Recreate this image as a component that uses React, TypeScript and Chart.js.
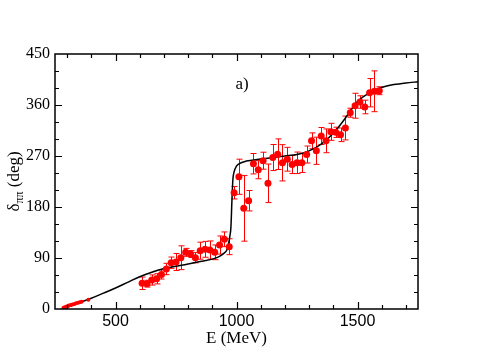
import React, { useEffect, useRef } from "react";
import { Chart, registerables } from "chart.js";

Chart.register(...registerables);

// Low-energy (Ke4-like) data
const lowE = [285, 292, 300, 307, 315, 322, 330, 337, 345, 352, 360, 388];
const lowPhase = [2, 3.5, 5, 6, 7, 8, 9, 10, 11, 12, 13, 16.5];

// Main phase-shift data
const mainE = [
  610, 630, 650, 670, 690, 710, 730, 750, 770, 790, 810, 830, 850, 870, 890, 910, 930, 950, 970,
  990, 1010, 1030, 1050, 1070, 1090, 1110, 1130, 1150, 1170, 1190, 1210, 1230, 1250, 1270, 1290,
  1310, 1330, 1350, 1370, 1390, 1410, 1430, 1450, 1470, 1490, 1510, 1530, 1550, 1570, 1590,
];
const mainPhase = [
  45.4, 44.7, 51.2, 53.3, 60.9, 70.6, 81.7, 82.9, 90.5, 100, 97, 90.5, 102.9, 105.3, 104.1, 100,
  112.9, 123, 109.9, 205.2, 233.4, 177.7, 191.1, 256.4, 245.8, 261.7, 221.8, 267.3, 273.2, 258,
  264.3, 255, 258, 258, 272.6, 296.8, 279.2, 305.3, 296.8, 312.7, 311.8, 307.4, 319.4, 346.4,
  358.7, 365.3, 356.5, 381.7, 384.2, 385.2,
];
const mainErr = [
  11, 6, 9, 9, 8, 10, 10, 15, 21, 7, 6, 9, 15, 14, 16, 13, 16, 13, 14, 11, 31, 58, 18, 18, 16, 15,
  34, 23, 27, 32, 21, 16, 19, 17, 15, 14, 24, 15, 21, 15, 9, 12, 21, 8, 22, 11, 12, 25, 36, 7,
];

// Theoretical curve
const curveE = [
  280, 300, 350, 400, 450, 500, 550, 600, 650, 700, 750, 800, 850, 900, 930, 950, 960, 967, 972,
  977, 981, 985, 990, 1000, 1010, 1040, 1100, 1150, 1200, 1250, 1300, 1350, 1400, 1450, 1480, 1500,
  1550, 1600, 1650, 1700, 1750,
];
const curvePhase = [
  0, 3, 11, 19, 28, 37, 47, 57, 65, 71.5, 75.5, 79.5, 84, 88, 93, 99, 104, 115, 127, 145, 190, 228,
  242, 252, 256, 261, 264.5, 267.5, 270, 272.5, 279, 291, 310, 337, 355, 366, 382, 391, 396, 399,
  401,
];

// Axes
const xMin = 250;
const xMax = 1750;
const yMin = 0;
const yMax = 450;
const xTickLabels = [500, 1000, 1500];
const xMinorTicks = [300, 400, 500, 600, 700, 800, 900, 1000, 1100, 1200, 1300, 1400, 1500, 1600, 1700];
const yTickLabels = [0, 90, 180, 270, 360, 450];
const yMinorTicks = [30, 60, 90, 120, 150, 180, 210, 240, 270, 300, 330, 360, 390, 420];

const SERIF = "Liberation Serif";
const SANS = "Liberation Sans";

export default function App() {
  const ref = useRef<HTMLCanvasElement>(null);

  useEffect(() => {
    document.body.style.margin = "0";
    const canvas = ref.current;
    if (!canvas) return;

    Chart.defaults.font.family = SERIF;

    const errorBars = {
      id: "errorBars",
      beforeDatasetsDraw(chart: any) {
        const { ctx } = chart;
        const x = chart.scales.x;
        const y = chart.scales.y;
        ctx.save();
        ctx.strokeStyle = "#ff0000";
        ctx.lineWidth = 1;
        mainE.forEach((e, i) => {
          const px = Math.round(x.getPixelForValue(e)) + 0.5;
          const y1 = y.getPixelForValue(mainPhase[i] - mainErr[i]);
          const y2 = y.getPixelForValue(mainPhase[i] + mainErr[i]);
          ctx.beginPath();
          ctx.moveTo(px, y1);
          ctx.lineTo(px, y2);
          ctx.moveTo(px - 3, y1);
          ctx.lineTo(px + 3, y1);
          ctx.moveTo(px - 3, y2);
          ctx.lineTo(px + 3, y2);
          ctx.stroke();
        });
        ctx.restore();
      },
    };

    const frame = {
      id: "frame",
      afterDatasetsDraw(chart: any) {
        const { ctx, chartArea } = chart;
        const x = chart.scales.x;
        const y = chart.scales.y;
        const { left, right, top, bottom } = chartArea;
        ctx.save();
        ctx.strokeStyle = "#000";
        ctx.lineWidth = 1.5;
        ctx.strokeRect(left, top, right - left, bottom - top);
        ctx.lineWidth = 1.2;
        ctx.beginPath();
        xMinorTicks.forEach((v) => {
          const px = Math.round(x.getPixelForValue(v)) + 0.5;
          const len = xTickLabels.includes(v) ? 7 : 4;
          ctx.moveTo(px, bottom);
          ctx.lineTo(px, bottom - len);
          ctx.moveTo(px, top);
          ctx.lineTo(px, top + len);
        });
        yMinorTicks.forEach((v) => {
          const py = Math.round(y.getPixelForValue(v)) + 0.5;
          const len = yTickLabels.includes(v) ? 7 : 4;
          ctx.moveTo(left, py);
          ctx.lineTo(left + len, py);
          ctx.moveTo(right, py);
          ctx.lineTo(right - len, py);
        });
        ctx.stroke();

        // panel label
        ctx.fillStyle = "#000";
        ctx.font = `17px "${SERIF}"`;
        ctx.textAlign = "center";
        ctx.textBaseline = "middle";
        ctx.fillText("a)", 242, 85);

        // y title: δ_ππ (deg), rotated
        const cy = (top + bottom) / 2;
        ctx.translate(19, cy);
        ctx.rotate(-Math.PI / 2);
        ctx.textAlign = "left";
        ctx.textBaseline = "alphabetic";
        const big = `17px "${SERIF}"`;
        const small = `12px "${SERIF}"`;
        ctx.font = big;
        const w1 = ctx.measureText("δ").width;
        ctx.font = small;
        const w2 = ctx.measureText("ππ").width;
        ctx.font = big;
        const w3 = ctx.measureText(" (deg)").width;
        let sx = -(w1 + w2 + w3) / 2;
        ctx.font = big;
        ctx.fillText("δ", sx, 0);
        sx += w1;
        ctx.font = small;
        ctx.fillText("ππ", sx, 4);
        sx += w2;
        ctx.font = big;
        ctx.fillText(" (deg)", sx, 0);
        ctx.restore();
      },
    };

    const chart = new Chart(canvas, {
      type: "scatter",
      data: {
        datasets: [
          {
            label: "low",
            data: lowE.map((e, i) => ({ x: e, y: lowPhase[i] })),
            pointRadius: 2,
            pointBackgroundColor: "#ff0000",
            pointBorderWidth: 0,
            showLine: false,
          },
          {
            label: "data",
            data: mainE.map((e, i) => ({ x: e, y: mainPhase[i] })),
            pointRadius: 3.5,
            pointBackgroundColor: "#ff0000",
            pointBorderWidth: 0,
            showLine: false,
          },
          {
            label: "curve",
            data: curveE.map((e, i) => ({ x: e, y: curvePhase[i] })),
            showLine: true,
            pointRadius: 0,
            borderColor: "#000",
            borderWidth: 1.5,
            cubicInterpolationMode: "monotone",
            fill: false,
          } as any,
        ],
      },
      options: {
        animation: false,
        responsive: false,
        devicePixelRatio: 1,
        layout: { padding: { top: 54, right: 82, left: 0, bottom: 0 } },
        plugins: {
          legend: { display: false },
          tooltip: { enabled: false },
          title: { display: false },
        },
        scales: {
          x: {
            type: "linear",
            min: xMin,
            max: xMax,
            grid: { display: false, drawTicks: false },
            border: { display: false },
            afterBuildTicks: (scale: any) => {
              scale.ticks = xTickLabels.map((v) => ({ value: v }));
            },
            afterFit: (scale: any) => {
              scale.height = 45;
            },
            ticks: {
              color: "#000",
              padding: 3,
              maxRotation: 0,
              font: { family: SANS, size: 16 },
              callback: (v: any) => String(v),
            },
            title: {
              display: true,
              text: "E (MeV)",
              color: "#000",
              font: { family: SERIF, size: 17 },
              padding: { top: 0, bottom: 5 },
            },
          },
          y: {
            type: "linear",
            min: yMin,
            max: yMax,
            grid: { display: false, drawTicks: false },
            border: { display: false },
            afterBuildTicks: (scale: any) => {
              scale.ticks = yTickLabels.map((v) => ({ value: v }));
            },
            afterFit: (scale: any) => {
              scale.width = 55;
            },
            ticks: {
              color: "#000",
              padding: 5,
              font: { family: SERIF, size: 16 },
              callback: (v: any) => String(v),
            },
          },
        },
      },
      plugins: [errorBars, frame],
    });

    return () => chart.destroy();
  }, []);

  return <canvas ref={ref} width={500} height={354} style={{ display: "block" }} />;
}
